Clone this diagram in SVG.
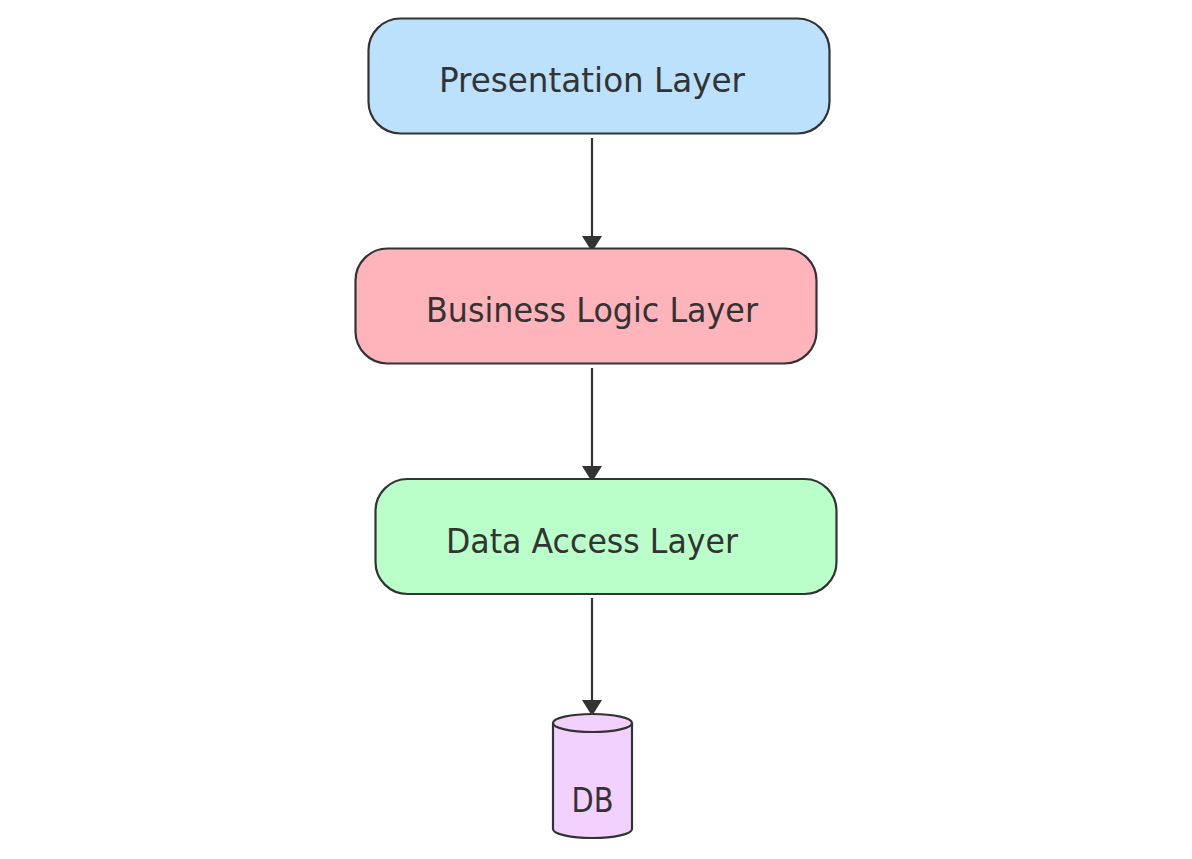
<svg xmlns="http://www.w3.org/2000/svg" width="1192" height="859" viewBox="0 0 1192 859">
<style>
.node{stroke:#333333;stroke-width:2.2}
.lbl{font-family:"DejaVu Sans","Liberation Sans",sans-serif;font-size:34px;fill:#333333;text-anchor:middle}
.edge{stroke:#333333;stroke-width:2.2;fill:none}
</style>
<defs>
<marker id="arr" viewBox="0 0 16 20" refX="15" refY="10" markerUnits="userSpaceOnUse" markerWidth="16" markerHeight="20" orient="auto">
<path d="M0,0 L16,10 L0,20 z" fill="#333333"/>
</marker>
</defs>
<rect width="1192" height="859" fill="#ffffff"/>
<g id="connectors">
<line class="edge" x1="592" y1="138" x2="592" y2="251" marker-end="url(#arr)"/>
<line class="edge" x1="592" y1="368" x2="592" y2="481" marker-end="url(#arr)"/>
<line class="edge" x1="592" y1="598" x2="592" y2="715" marker-end="url(#arr)"/>
</g>
<g id="presentation">
<rect class="node" x="368.5" y="18.5" width="461" height="115" rx="32" ry="32" fill="#bbe1fd"/>
<text class="lbl" x="592" y="92" textLength="306" lengthAdjust="spacingAndGlyphs">Presentation Layer</text>
</g>
<g id="business">
<rect class="node" x="355.5" y="248.5" width="461" height="115" rx="32" ry="32" fill="#ffb3ba"/>
<text class="lbl" x="592" y="322" textLength="332" lengthAdjust="spacingAndGlyphs">Business Logic Layer</text>
</g>
<g id="dataaccess">
<rect class="node" x="375.5" y="479" width="461" height="115" rx="32" ry="32" fill="#baffc9"/>
<text class="lbl" x="592" y="553" textLength="292" lengthAdjust="spacingAndGlyphs">Data Access Layer</text>
</g>
<g id="db">
<path class="node" d="M553,723 A39.5,9 0 0 1 632,723 L632,829 A39.5,9 0 0 1 553,829 Z" fill="#f3d1ff"/>
<path class="node" d="M553,723 A39.5,9 0 0 0 632,723" fill="none"/>
<text class="lbl" x="592.5" y="812" textLength="42" lengthAdjust="spacingAndGlyphs">DB</text>
</g>
</svg>
